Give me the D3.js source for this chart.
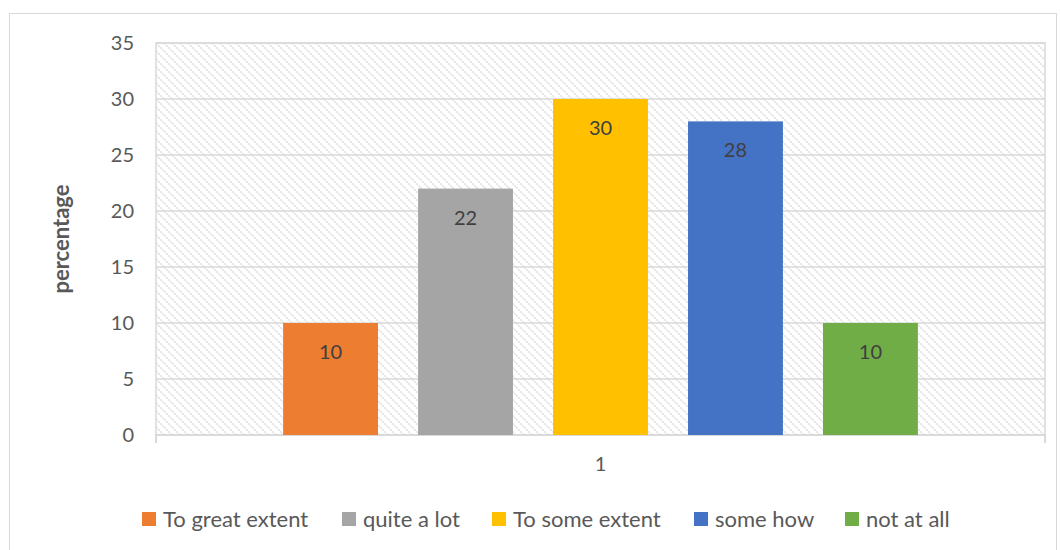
<!DOCTYPE html>
<html>
<head>
<meta charset="utf-8">
<script src="https://cdn.jsdelivr.net/npm/d3@7"></script>
<style>
  html, body { margin: 0; padding: 0; background: #ffffff; }
  svg { display: block; font-family: Lato, "Open Sans", sans-serif; }
</style>
</head>
<body>
<svg id="chart" width="1060" height="550"></svg>
<script>
// Survey responses, one category with five answer series
const categories = ["1"];
const seriesNames = ["To great extent", "quite a lot", "To some extent", "some how", "not at all"];
const seriesValues = [10, 22, 30, 28, 10];
const seriesColors = ["#ED7D31", "#A5A5A5", "#FFC000", "#4472C4", "#70AD47"];
const yTicks = [0, 5, 10, 15, 20, 25, 30, 35];
const yTitle = "percentage";

const svg = d3.select("#chart");
const margin = { left: 156, right: 15, top: 43, bottom: 115 };
const W = 1060, H = 550;
const plotW = W - margin.left - margin.right;
const plotH = H - margin.top - margin.bottom;

// Outer chart frame
svg.append("rect")
  .attr("x", 9.5).attr("y", 13.5)
  .attr("width", 1047).attr("height", 560)
  .attr("fill", "#fff").attr("stroke", "#d9d9d9").attr("stroke-width", 1);

// Diagonal hatch fill for the plot area
const defs = svg.append("defs");
const pat = defs.append("pattern")
  .attr("id", "hatch")
  .attr("patternUnits", "userSpaceOnUse")
  .attr("width", 8).attr("height", 8);
pat.append("rect").attr("width", 8).attr("height", 8).attr("fill", "#ffffff");
pat.append("path")
  .attr("d", "M-2,-2 L10,10 M-2,6 L2,10 M6,-2 L10,2")
  .attr("stroke", "#dedede").attr("stroke-width", 1.5)
  .attr("stroke-dasharray", "2,1");

const g = svg.append("g").attr("transform", `translate(${margin.left},${margin.top})`);

const x0 = d3.scaleBand().domain(categories).range([0, plotW]).padding(0);
const x1 = d3.scaleBand().domain(seriesNames)
  .range([x0.bandwidth() / 2 - 337.5, x0.bandwidth() / 2 + 337.5])
  .paddingInner(0.297).paddingOuter(0.149);
const y = d3.scaleLinear().domain([0, 35]).range([plotH, 0]);

g.append("rect")
  .attr("x", 0).attr("y", 0).attr("width", plotW).attr("height", plotH)
  .attr("fill", "url(#hatch)")
  .attr("stroke", "#d9d9d9").attr("stroke-width", 1.5);

// Horizontal gridlines
g.selectAll(".grid").data(yTicks.filter(t => t > 0))
  .enter().append("line")
  .attr("x1", 0).attr("x2", plotW)
  .attr("y1", d => y(d)).attr("y2", d => y(d))
  .attr("stroke", "#d9d9d9").attr("stroke-width", 1.5);

// Y axis labels
const yAxis = d3.axisLeft(y).tickValues(yTicks).tickSize(0).tickPadding(22);
const ya = g.append("g").call(yAxis);
ya.select(".domain").remove();
ya.selectAll("text").attr("fill", "#595959").style("font-size", "20px")
  .style("font-family", "Lato, sans-serif");

// X axis baseline with end ticks
const xa = g.append("g").attr("transform", `translate(0,${plotH})`)
  .call(d3.axisBottom(x0).tickSize(0).tickPadding(22));
xa.select(".domain").attr("stroke", "#d9d9d9").attr("stroke-width", 2)
  .attr("d", `M0,8V0H${plotW}V8`);
xa.selectAll("text").attr("fill", "#595959").style("font-size", "20px")
  .style("font-family", "Lato, sans-serif");

// Bars
const cat = g.selectAll(".cat").data(categories).enter().append("g")
  .attr("transform", d => `translate(${x0(d)},0)`);
const data = seriesNames.map((n, i) => ({ name: n, value: seriesValues[i], color: seriesColors[i] }));
cat.selectAll("rect.bar").data(data).enter().append("rect")
  .attr("class", "bar")
  .attr("x", d => x1(d.name))
  .attr("y", d => y(d.value))
  .attr("width", x1.bandwidth())
  .attr("height", d => plotH - y(d.value))
  .attr("fill", d => d.color);

// Value labels inside the top of each bar
cat.selectAll("text.val").data(data).enter().append("text")
  .attr("class", "val")
  .attr("x", d => x1(d.name) + x1.bandwidth() / 2)
  .attr("y", d => y(d.value) + 36)
  .attr("text-anchor", "middle")
  .attr("fill", "#404040")
  .style("font-size", "20px")
  .text(d => d.value);

// Y axis title
svg.append("text")
  .attr("transform", `translate(69,${margin.top + plotH / 2}) rotate(-90)`)
  .attr("text-anchor", "middle")
  .attr("fill", "#595959")
  .style("font-size", "22px").style("font-weight", "bold")
  .text(yTitle);

// Legend
const legendX = [142, 342, 492, 694, 845];
const lg = svg.selectAll(".lg").data(data).enter().append("g")
  .attr("transform", (d, i) => `translate(${legendX[i]},519)`);
lg.append("rect").attr("x", 0).attr("y", -7).attr("width", 14).attr("height", 14)
  .attr("fill", d => d.color);
lg.append("text").attr("x", 21).attr("y", 7.5)
  .attr("fill", "#595959").style("font-size", "22px")
  .text(d => d.name);
</script>
</body>
</html>
